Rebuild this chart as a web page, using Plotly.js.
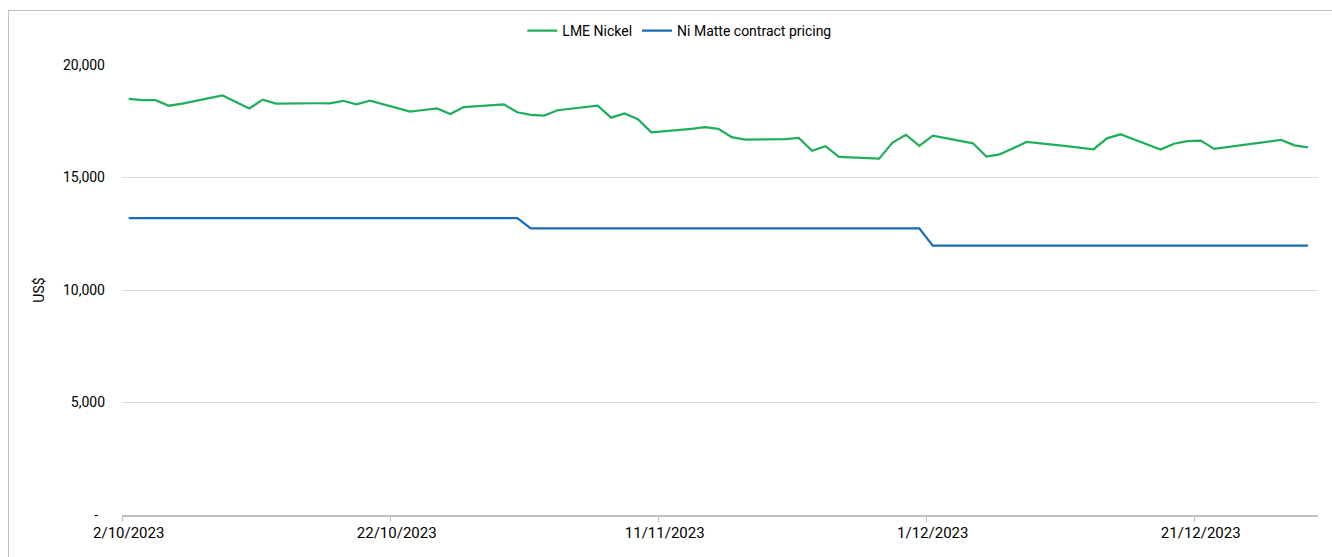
<!DOCTYPE html>
<html>
<head>
<meta charset="utf-8">
<script src="https://cdn.plot.ly/plotly-3.0.1.min.js"></script>
<style>
  html, body { margin: 0; padding: 0; background: #fff; overflow: hidden; }
  #chart { width: 1332px; height: 557px; }
  #frame { position: absolute; left: 8px; top: 10px; width: 1340px; height: 560px; border: 1px solid #bfbfbf; pointer-events: none; }
</style>
</head>
<body>
<div id="chart"></div>
<div id="frame"></div>
<script>
const dates = [
  '2023-10-02','2023-10-03','2023-10-04','2023-10-05','2023-10-06',
  '2023-10-09','2023-10-10','2023-10-11','2023-10-12','2023-10-13',
  '2023-10-16','2023-10-17','2023-10-18','2023-10-19','2023-10-20',
  '2023-10-23','2023-10-24','2023-10-25','2023-10-26','2023-10-27',
  '2023-10-30','2023-10-31',
  '2023-11-01','2023-11-02','2023-11-03',
  '2023-11-06','2023-11-07','2023-11-08','2023-11-09','2023-11-10',
  '2023-11-13','2023-11-14','2023-11-15','2023-11-16','2023-11-17',
  '2023-11-20','2023-11-21','2023-11-22','2023-11-23','2023-11-24',
  '2023-11-27','2023-11-28','2023-11-29','2023-11-30',
  '2023-12-01',
  '2023-12-04','2023-12-05','2023-12-06','2023-12-07','2023-12-08',
  '2023-12-11','2023-12-12','2023-12-13','2023-12-14','2023-12-15',
  '2023-12-18','2023-12-19','2023-12-20','2023-12-21','2023-12-22',
  '2023-12-27','2023-12-28','2023-12-29'
];

const lmeNickel = [
  18490, 18440, 18440, 18190, 18280,
  18650, 18360, 18070, 18460, 18280,
  18300, 18300, 18410, 18250, 18410,
  17930, 18000, 18070, 17820, 18130,
  18250, 17900,
  17780, 17750, 17990,
  18190, 17660, 17850, 17590, 17010,
  17160, 17240, 17160, 16790, 16680,
  16710, 16760, 16190, 16390, 15920,
  15840, 16550, 16900, 16410,
  16860,
  16520, 15930, 16030, 16300, 16580,
  16390, 16320, 16250, 16740, 16920,
  16240, 16500, 16620, 16640, 16270,
  16670, 16430, 16340
];

const niMatte = [
  13200, 13200, 13200, 13200, 13200,
  13200, 13200, 13200, 13200, 13200,
  13200, 13200, 13200, 13200, 13200,
  13200, 13200, 13200, 13200, 13200,
  13200, 13200,
  12740, 12740, 12740,
  12740, 12740, 12740, 12740, 12740,
  12740, 12740, 12740, 12740, 12740,
  12740, 12740, 12740, 12740, 12740,
  12740, 12740, 12740, 12740,
  11970,
  11970, 11970, 11970, 11970, 11970,
  11970, 11970, 11970, 11970, 11970,
  11970, 11970, 11970, 11970, 11970,
  11970, 11970, 11970
];

const xTickDates = ['2023-10-02','2023-10-22','2023-11-11','2023-12-01','2023-12-21'];
const xTickLabels = ['2/10/2023','22/10/2023','11/11/2023','1/12/2023','21/12/2023'];
const yTickVals = [0, 5000, 10000, 15000, 20000];
const yTickLabels = ['-\u00a0\u00a0', '5,000', '10,000', '15,000', '20,000'];

const mid = d => d + ' 12:00';
const FONT = "Roboto, 'Liberation Sans', sans-serif";

const traces = [
  { x: dates.map(mid), y: lmeNickel, type: 'scatter', mode: 'lines', name: 'LME Nickel',
    line: { color: '#1fae5b', width: 2.25 } },
  { x: dates.map(mid), y: niMatte, type: 'scatter', mode: 'lines', name: 'Ni Matte contract pricing',
    line: { color: '#1a6db5', width: 2.25 } }
];

const layout = {
  width: 1332, height: 557,
  margin: { l: 122, r: 14, t: 65, b: 42 },
  paper_bgcolor: '#ffffff', plot_bgcolor: '#ffffff',
  font: { family: FONT, size: 14, color: '#000' },
  showlegend: true,
  legend: { orientation: 'h', x: 0.466, xanchor: 'center', y: 1.0756, yanchor: 'middle',
            yref: 'paper', font: { size: 14 }, itemwidth: 30, tracegroupgap: 0 },
  xaxis: {
    type: 'date',
    range: ['2023-10-02 00:00', '2023-12-30 06:00'],
    tickmode: 'array', tickvals: xTickDates.map(mid), ticktext: xTickLabels,
    ticks: '', showgrid: false, zeroline: false,
    showline: true, linecolor: '#bfbfbf', linewidth: 1.5,
    ticklabelstandoff: 3,
    tickfont: { size: 15 },
    minor: { tickmode: 'array', tickvals: xTickDates, ticks: 'outside', ticklen: 5, tickcolor: '#bfbfbf', showgrid: false }
  },
  yaxis: {
    range: [0, 20000],
    tickmode: 'array', tickvals: yTickVals, ticktext: yTickLabels,
    showgrid: true, gridcolor: '#d9d9d9', gridwidth: 1,
    zeroline: false, showline: false, ticks: '',
    ticklabelstandoff: 16,
    tickfont: { size: 14 },
    title: { text: 'US$', font: { size: 14 }, standoff: 14 }
  }
};

Plotly.newPlot('chart', traces, layout, { displayModeBar: false, staticPlot: true });
</script>
</body>
</html>
